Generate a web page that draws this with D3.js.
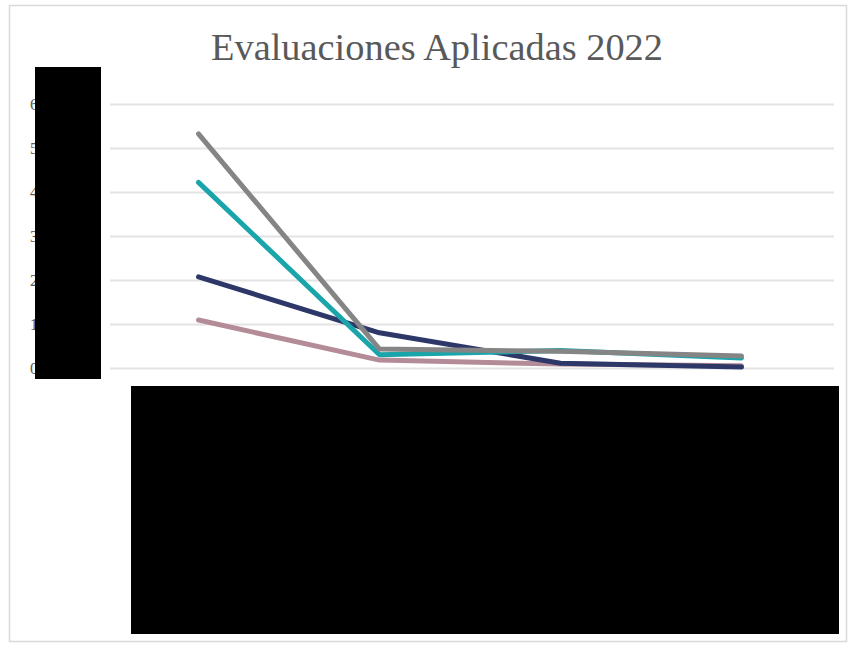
<!DOCTYPE html>
<html>
<head>
<meta charset="utf-8">
<script src="https://cdn.jsdelivr.net/npm/d3@7"></script>
<style>
  html, body { margin: 0; padding: 0; background: #fff; }
  svg { display: block; }
</style>
</head>
<body>
<svg id="chart" width="851" height="647"></svg>
<script>
const title = "Evaluaciones Aplicadas 2022";
const categories = ["C1", "C2", "C3", "C4"];
const yTicks = [0, 1, 2, 3, 4, 5, 6];
const seriesNames = ["Serie 1", "Serie 2", "Serie 3", "Serie 4"];
const serieGris = [5.32, 0.43, 0.38, 0.27];
const serieTurquesa = [4.22, 0.30, 0.40, 0.23];
const serieAzul = [2.07, 0.80, 0.11, 0.02];
const serieMalva = [1.09, 0.18, 0.09, 0.05];
const seriesColors = ["#b48c98", "#2d3869", "#1aa5ab", "#858585"];

const svg = d3.select("#chart");

// chart frame
svg.append("rect").attr("x", 9.5).attr("y", 5.5).attr("width", 837).attr("height", 636)
  .attr("fill", "#fff").attr("stroke", "#d9d9d9").attr("stroke-width", 1.5);

const plot = { left: 110, right: 834, top: 104, bottom: 368 };
const x = d3.scaleBand().domain(categories).range([plot.left, plot.right]);
const y = d3.scaleLinear().domain([0, 6]).range([plot.bottom, plot.top]);

// gridlines
const yAxis = d3.axisLeft(y).tickValues(yTicks).tickSize(-(plot.right - plot.left)).tickFormat(d => d);
const gy = svg.append("g").attr("transform", `translate(${plot.left},0)`).call(yAxis);
gy.select(".domain").remove();
gy.selectAll(".tick line").attr("stroke", "#e3e3e3").attr("stroke-width", 2);
gy.selectAll(".tick text").attr("x", -80).attr("text-anchor", "start")
  .attr("font-family", "Liberation Serif, serif").attr("font-size", 16).attr("fill", "#595959");

// x axis labels (hidden under redaction)
const xAxis = d3.axisBottom(x).tickSize(0);
const gx = svg.append("g").attr("transform", `translate(0,${plot.bottom})`).call(xAxis);
gx.select(".domain").remove();
gx.selectAll(".tick text").attr("dy", 30).attr("font-family", "Liberation Serif, serif")
  .attr("font-size", 14).attr("fill", "#595959");

// lines
const allSeries = [serieMalva, serieAzul, serieTurquesa, serieGris];
const line = d3.line().x((d, i) => x(categories[i]) + x.bandwidth() / 2 - 2).y(d => y(d));
svg.append("g").selectAll("path").data(allSeries).join("path")
  .attr("d", d => line(d))
  .attr("fill", "none")
  .attr("stroke", (d, i) => seriesColors[i])
  .attr("stroke-width", 5)
  .attr("stroke-linejoin", "round")
  .attr("stroke-linecap", "round");

// title
svg.append("text").attr("x", 437).attr("y", 60).attr("text-anchor", "middle")
  .attr("font-family", "Liberation Serif, serif").attr("font-size", 37)
  .attr("fill", "#595959").attr("textLength", 452).attr("lengthAdjust", "spacingAndGlyphs")
  .text(title);

// redaction blocks
svg.append("rect").attr("x", 35).attr("y", 67).attr("width", 66).attr("height", 312).attr("fill", "#000");
svg.append("rect").attr("x", 131).attr("y", 386).attr("width", 708).attr("height", 248).attr("fill", "#000");

// legend (under redaction)
const lg = svg.append("g").attr("transform", "translate(330,600)");
seriesNames.forEach((n, i) => {
  lg.append("line").attr("x1", i * 110).attr("x2", i * 110 + 25).attr("y1", 0).attr("y2", 0)
    .attr("stroke", "#000").attr("stroke-width", 3);
  lg.append("text").attr("x", i * 110 + 30).attr("y", 5).attr("font-size", 13).attr("fill", "#000").text(n);
});
</script>
</body>
</html>
